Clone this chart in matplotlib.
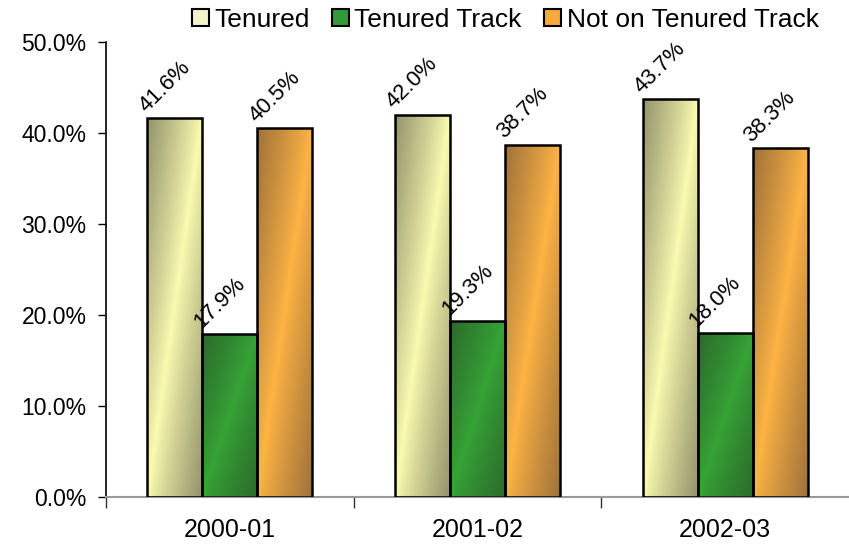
import matplotlib
matplotlib.use("Agg")
import matplotlib.colors as mcolors
import matplotlib.patches as mpatches
import matplotlib.pyplot as plt
import numpy as np
from matplotlib.ticker import FuncFormatter

# -- Data
years = ["2000-01", "2001-02", "2002-03"]
series = ["Tenured", "Tenured Track", "Not on Tenured Track"]
tenured = [41.6, 42.0, 43.7]
tenure_track = [17.9, 19.3, 18.0]
not_track = [40.5, 38.7, 38.3]

# light / dark ends of each series' diagonal gradient
LIGHT = ["#fbfbb2", "#36a336", "#ffb444"]
DARK = ["#94946c", "#2b6b2b", "#a0723a"]
SWATCH = ["#f3f3cc", "#33993a", "#f8aa3c"]

plt.rcParams["font.family"] = ["Liberation Sans", "DejaVu Sans"]


def gradient(light, dark, n=80):
    u = np.linspace(0, 1, n)
    v = np.linspace(1, 0, n)
    uu, vv = np.meshgrid(u, v)
    d = np.clip(np.abs(uu - vv), 0, 1) ** 0.9
    lo = np.array(mcolors.to_rgb(light))
    hi = np.array(mcolors.to_rgb(dark))
    return lo * (1 - d)[..., None] + hi * d[..., None]


fig = plt.figure(figsize=(8.49, 5.51), dpi=100)
ax = fig.add_axes([0.1249, 0.098, 0.8751, 0.8258])

x = np.arange(len(years))
w = 0.222
data = [tenured, tenure_track, not_track]

for i, vals in enumerate(data):
    pos = x + (i - 1) * w
    bars = ax.bar(pos, vals, w, facecolor="none", edgecolor="black",
                  linewidth=1.8, zorder=3)
    img = gradient(LIGHT[i], DARK[i])
    for b, p, v in zip(bars, pos, vals):
        im = ax.imshow(img, extent=[p - w / 2, p + w / 2, 0, v],
                       aspect="auto", zorder=2, interpolation="bilinear")
        im.set_clip_path(b)
        ax.text(p - w / 2 + 0.01, v + 0.2, f"{v:.1f}%",
                rotation=45, rotation_mode="anchor",
                ha="left", va="bottom", fontsize=16, zorder=4)

ax.set_xlim(-0.5, 2.5)
ax.set_ylim(0, 50)
ax.set_yticks(np.arange(0, 51, 10))
ax.yaxis.set_major_formatter(FuncFormatter(lambda v, _: f"{v:.1f}%"))
ax.tick_params(axis="y", labelsize=16.5, length=6, width=1, pad=8)

ax.set_xticks([-0.5, 0.5, 1.5])
ax.set_xticklabels([])
ax.set_xticks(x, minor=True)
ax.set_xticklabels(years, minor=True)
ax.tick_params(axis="x", which="major", length=8, width=1, color="#333333")
ax.tick_params(axis="x", which="minor", length=0, labelsize=18, pad=15)

for s in ["top", "right"]:
    ax.spines[s].set_visible(False)
ax.spines["left"].set_linewidth(1.2)
ax.spines["bottom"].set_color("#999999")
ax.spines["bottom"].set_linewidth(1.5)

handles = [mpatches.Patch(facecolor=c, edgecolor="black", linewidth=1.5,
                          label=lbl) for c, lbl in zip(SWATCH, series)]
fig.legend(handles=handles, loc="center", bbox_to_anchor=(0.595, 0.964),
           ncol=3, frameon=False, fontsize=19, handlelength=0.65,
           handleheight=0.65, handletextpad=0.2, columnspacing=0.85)

fig.savefig("out.png", dpi=100)
